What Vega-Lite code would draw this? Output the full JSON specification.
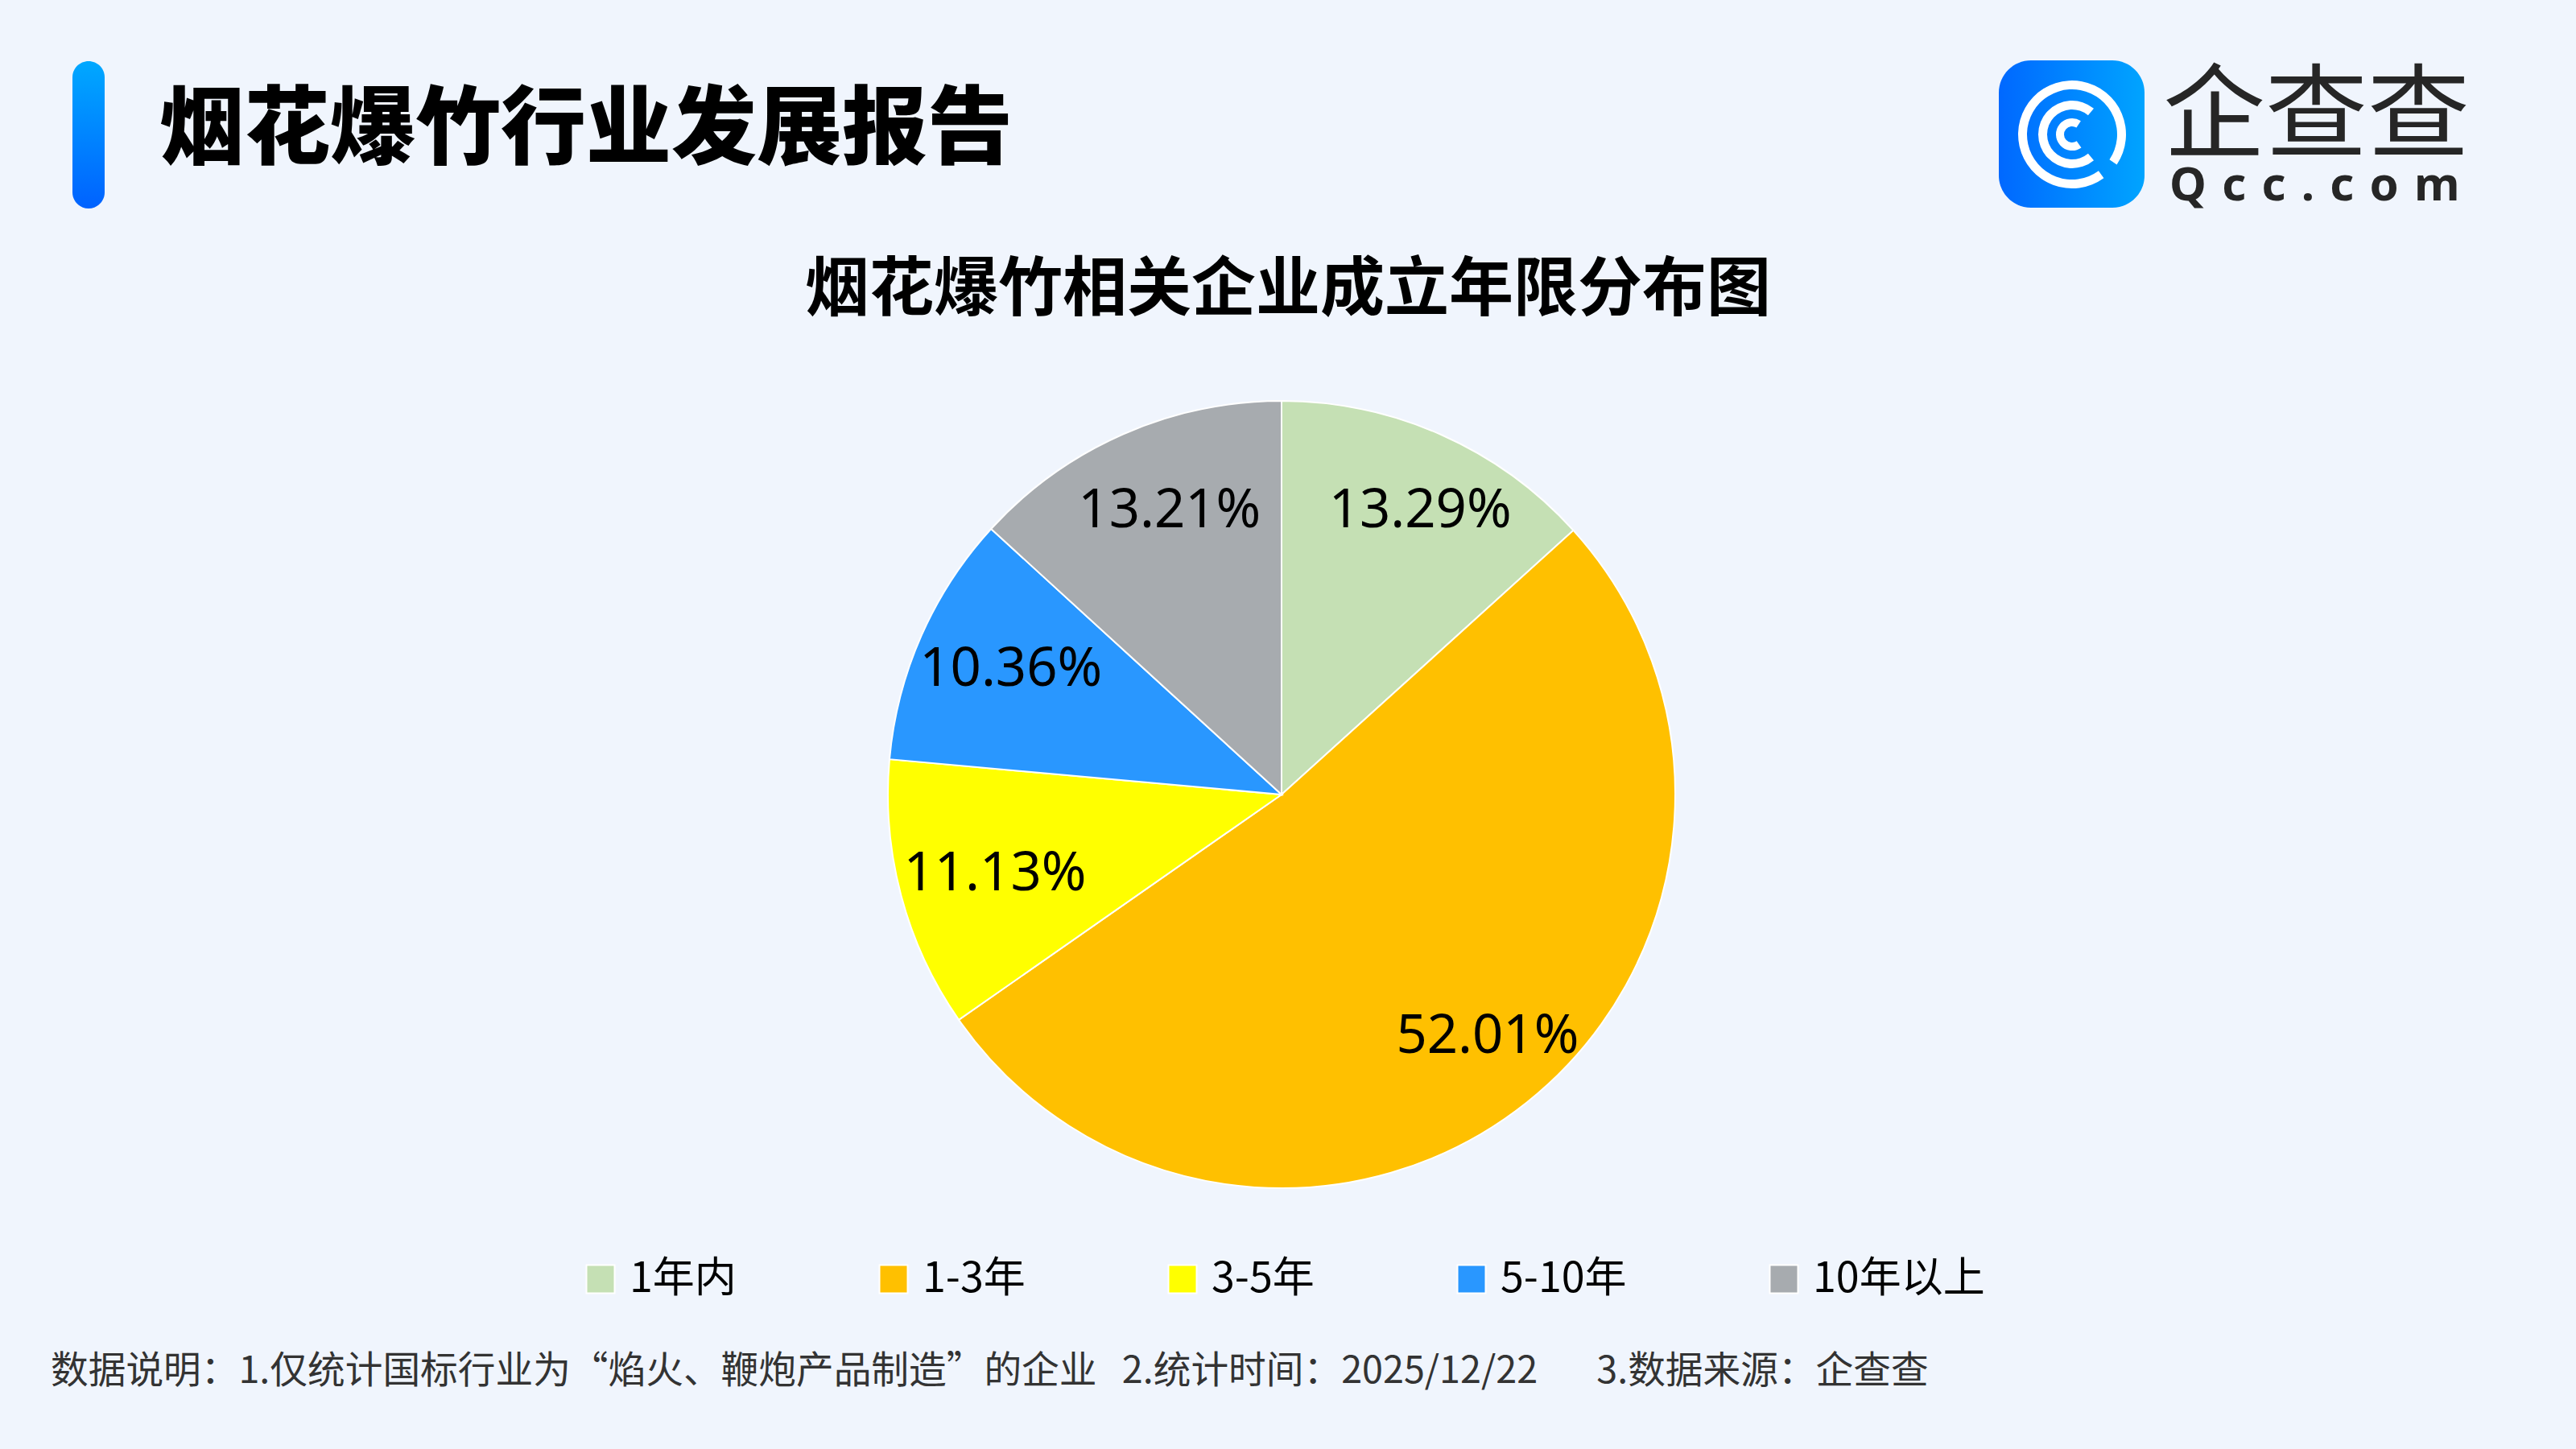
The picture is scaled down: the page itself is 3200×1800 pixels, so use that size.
{
  "$schema": "https://vega.github.io/schema/vega-lite/v6.json",
  "autosize": {"type": "none"},
  "width": 978,
  "height": 978,
  "padding": {"left": 1103, "top": 498, "right": 1119, "bottom": 324},
  "background": "#F0F5FD",
  "config": {"view": {"stroke": null}, "font": "Noto Sans CJK SC"},
  "datasets": {
    "pie": [
      {"idx": 1, "category": "1年内", "share": 0.1329},
      {"idx": 2, "category": "1-3年", "share": 0.5201},
      {"idx": 3, "category": "3-5年", "share": 0.1113},
      {"idx": 4, "category": "5-10年", "share": 0.1036},
      {"idx": 5, "category": "10年以上", "share": 0.1321}
    ]
  },
  "layer": [
    {
      "data": {"values": [{}]},
      "mark": {
        "type": "rect", "x": -1013, "x2": -973, "y": -422, "y2": -239, "cornerRadius": 20,
        "fill": {"gradient": "linear", "x1": 0, "y1": 0, "x2": 0, "y2": 1,
          "stops": [{"offset": 0, "color": "#00A8FF"}, {"offset": 1, "color": "#0062FF"}]}
      },
      "encoding": {}
    },
    {
      "data": {"values": [{"t": "烟花爆竹行业发展报告"}]},
      "mark": {"type": "text", "x": -905, "y": -335, "align": "left", "baseline": "middle",
        "fontSize": 106, "fontWeight": 900, "font": "Noto Sans CJK SC", "color": "#000000"},
      "encoding": {"text": {"field": "t"}}
    },
    {
      "data": {"values": [{"t": "烟花爆竹相关企业成立年限分布图"}]},
      "mark": {"type": "text", "x": 497, "y": -137, "align": "center", "baseline": "middle",
        "fontSize": 80, "fontWeight": "bold", "font": "Noto Sans CJK SC", "color": "#000000"},
      "encoding": {"text": {"field": "t"}}
    },
    {
      "data": {"values": [{}]},
      "mark": {
        "type": "rect", "x": 1380, "x2": 1561, "y": -423, "y2": -240, "cornerRadius": 40,
        "fill": {"gradient": "linear", "x1": 0, "y1": 0, "x2": 1, "y2": 0,
          "stops": [{"offset": 0, "color": "#0068FF"}, {"offset": 1, "color": "#00A4FF"}]}
      },
      "encoding": {}
    },
    {
      "data": {"values": [{}]},
      "mark": {"type": "arc", "x": 1471, "y": -331, "radius": 67, "radius2": 56, "theta": 2.513, "theta2": 8.447, "fill": "#FFFFFF"},
      "encoding": {}
    },
    {
      "data": {"values": [{}]},
      "mark": {"type": "arc", "x": 1471, "y": -331, "radius": 42, "radius2": 31, "theta": 2.443, "theta2": 6.981, "fill": "#FFFFFF"},
      "encoding": {}
    },
    {
      "data": {"values": [{}]},
      "mark": {"type": "arc", "x": 1471, "y": -331, "radius": 20, "radius2": 10, "theta": 2.531, "theta2": 6.859, "fill": "#FFFFFF"},
      "encoding": {}
    },
    {
      "data": {"values": [{}]},
      "mark": {"type": "rule", "x": 1509, "y": -290, "x2": 1522, "y2": -268, "stroke": "#FFFFFF", "strokeWidth": 11},
      "encoding": {}
    },
    {
      "data": {"values": [{"t": "企查查"}]},
      "mark": {"type": "text", "x": 1584, "y": -350, "align": "left", "baseline": "middle",
        "fontSize": 127, "fontWeight": "normal", "font": "Noto Sans CJK SC", "color": "#262626"},
      "encoding": {"text": {"field": "t"}}
    },
    {
      "data": {"values": [{"t": "Q\u2004c\u2004c\u2004.\u2004c\u2004o\u2004m"}]},
      "mark": {"type": "text", "x": 1592, "y": -266, "align": "left", "baseline": "middle",
        "fontSize": 58, "fontWeight": "bold", "font": "Noto Sans", "color": "#262626"},
      "encoding": {"text": {"field": "t"}}
    },
    {
      "data": {"values": [{"t": "数据说明：1.仅统计国标行业为“焰火、鞭炮产品制造”的企业\u00a0\u00a0\u00a02.统计时间：2025/12/22\u00a0\u00a0\u00a0\u00a0\u00a0\u00a0\u00a03.数据来源：企查查"}]},
      "mark": {"type": "text", "x": -1040, "y": 1206, "align": "left", "baseline": "middle",
        "fontSize": 46.7, "font": "Noto Sans CJK SC", "color": "#333333"},
      "encoding": {"text": {"field": "t"}}
    },
    {
      "data": {"name": "pie"},
      "mark": {"type": "arc", "stroke": "#FFFFFF", "strokeWidth": 2},
      "encoding": {
        "theta": {"field": "share", "type": "quantitative", "stack": true},
        "order": {"field": "idx", "type": "quantitative"},
        "color": {
          "field": "category", "type": "nominal",
          "scale": {
            "domain": ["1年内", "1-3年", "3-5年", "5-10年", "10年以上"],
            "range": ["#C5E0B4", "#FFC000", "#FFFF00", "#2997FF", "#A7ABAF"]
          },
          "legend": {
            "title": null,
            "orient": "none",
            "direction": "horizontal",
            "legendX": -383,
            "legendY": 1065,
            "symbolType": "square",
            "symbolSize": 1225,
            "symbolStrokeColor": "#FFFFFF",
            "symbolStrokeWidth": 2,
            "symbolOpacity": 1,
            "labelFontSize": 52,
            "labelFont": "Noto Sans CJK SC",
            "labelColor": "#000000",
            "labelOffset": 10,
            "columnPadding": 169,
            "labelLimit": 400
          }
        }
      }
    },
    {
      "data": {"name": "pie"},
      "mark": {"type": "text", "radius": 385, "dx": 16, "fontSize": 67, "font": "Noto Sans", "color": "#000000", "align": "center", "baseline": "middle"},
      "encoding": {
        "theta": {"field": "share", "type": "quantitative", "stack": true},
        "order": {"field": "idx", "type": "quantitative"},
        "text": {"field": "share", "type": "quantitative", "format": ".2%"}
      }
    }
  ]
}
